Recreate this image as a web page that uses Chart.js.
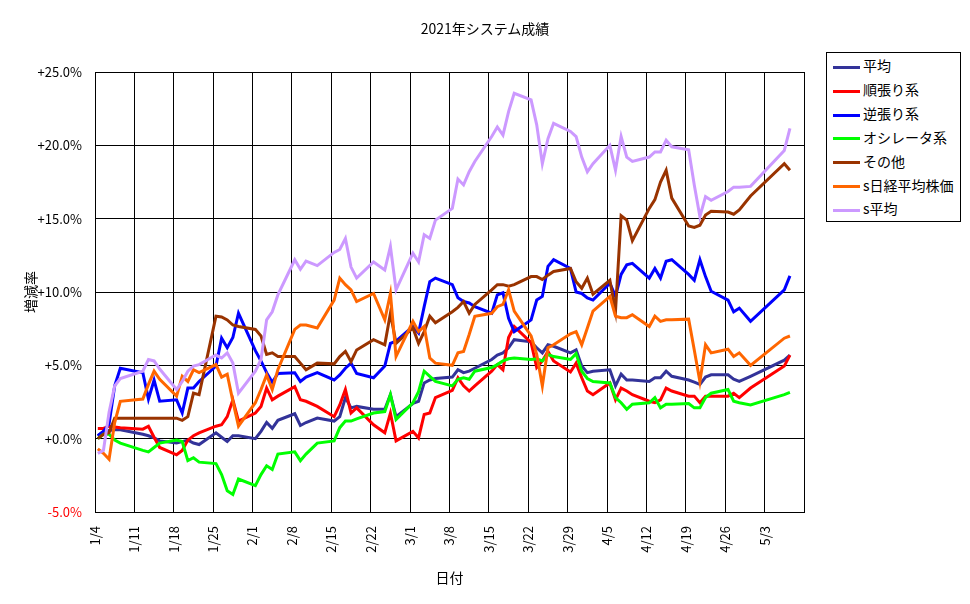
<!DOCTYPE html>
<html>
<head>
<meta charset="utf-8">
<script src="https://cdn.jsdelivr.net/npm/chart.js@4.4.1/dist/chart.umd.min.js"></script>
<style>
    body { margin: 0; background: #fff; }
    .wrap { position: relative; width: 970px; height: 604px; }
    #title {
        position: absolute; left: 0; top: 20px; width: 970px; text-align: center;
        font-family: "Noto Sans CJK JP", sans-serif; font-size: 14px; line-height: 17px;
    }
    #legend {
        position: absolute; left: 826px; top: 52px; width: 133px; height: 168px;
        border: 1px solid #000; background: #fff;
        font-family: "Noto Sans CJK JP", sans-serif; font-size: 14px;
    }
    .item { position: absolute; left: 6px; height: 20px; line-height: 20px; white-space: nowrap; }
    .item span.sw { display: inline-block; width: 27px; height: 3px; vertical-align: middle; margin-right: 3px; }
</style>
</head>
<body>
<div class="wrap">
    <canvas id="chart" width="970" height="604"></canvas>
    <div id="title">2021年システム成績</div>
    <div id="legend"></div>
</div>
<script>
// trading days (2021)
const dates = [
    "1/4","1/5","1/6","1/7","1/8","1/12","1/13","1/14","1/15","1/18","1/19","1/20","1/21","1/22","1/25","1/26","1/27","1/28","1/29",
    "2/1","2/2","2/3","2/4","2/5","2/8","2/9","2/10","2/12","2/15","2/16","2/17","2/18","2/19","2/22","2/24","2/25","2/26",
    "3/1","3/2","3/3","3/4","3/5","3/8","3/9","3/10","3/11","3/12","3/15","3/16","3/17","3/18","3/19","3/22","3/23","3/24","3/25","3/26","3/29","3/30","3/31",
    "4/1","4/2","4/5","4/6","4/7","4/8","4/9","4/12","4/13","4/14","4/15","4/16","4/19","4/20","4/21","4/22","4/23","4/26","4/27","4/28","4/30",
    "5/6","5/7"
];

const heikin = [
    0.2, 0.5, 0.55, 0.6, 0.6, 0.3, 0.2, 0.05, -0.15, -0.3, -0.2, -0.1, -0.3, -0.4, 0.4, 0.1, -0.2, 0.2, 0.2,
    0.0, 0.5, 1.1, 0.7, 1.25, 1.7, 0.9, 1.1, 1.4, 1.2, 1.5, 2.8, 2.1, 2.2, 2.0, 2.0, 3.0, 1.5,
    2.4, 2.55, 3.8, 4.0, 4.1, 4.2, 4.7, 4.5, 4.6, 4.8, 5.4, 5.7, 5.85, 6.2, 6.75, 6.6, 6.2, 5.85, 6.4, 6.3, 5.85, 6.05, 4.95,
    4.5, 4.6, 4.7, 3.6, 4.4, 4.0, 4.0, 3.9, 4.15, 4.15, 4.6, 4.25, 4.0, 3.85, 3.7, 4.2, 4.35, 4.35, 4.05, 3.9, 4.25,
    5.35, 5.7
];
const junbari = [
    0.7, 0.7, 0.85, 0.8, 0.75, 0.65, 0.85, 0.1, -0.6, -1.1, -0.8, -0.1, 0.2, 0.4, 0.85, 0.95, 1.5, 2.65, 1.2,
    1.75, 2.2, 3.45, 2.65, 2.9, 3.55, 2.65, 2.55, 2.2, 1.5, 2.3, 3.35, 1.75, 2.1, 0.95, 0.4, 1.75, -0.15,
    0.5, 0.05, 1.65, 1.75, 2.8, 3.3, 4.15, 3.6, 3.25, 3.6, 4.6, 5.05, 4.7, 6.9, 7.65, 6.55, 4.85, 5.3, 5.95, 5.3, 4.55, 5.15, 4.15,
    3.25, 3.0, 3.8, 2.65, 3.45, 3.25, 3.0, 2.55, 2.45, 2.65, 3.45, 3.25, 2.9, 2.9, 2.45, 2.9, 2.9, 2.9, 3.1, 2.8, 3.45,
    4.95, 5.7
];
const gyakubari = [
    0.2, 0.5, 1.0, 3.6, 4.8, 4.5, 2.7, 4.0, 2.55, 2.65, 1.75, 3.45, 3.45, 3.9, 4.95, 6.85, 6.2, 6.9, 8.55,
    6.0, 5.3, 4.5, 3.85, 4.45, 4.5, 3.9, 4.2, 4.5, 4.0, 4.35, 4.8, 5.15, 4.45, 4.15, 4.95, 6.5, 6.65,
    7.65, 7.2, 9.0, 10.7, 10.95, 10.5, 9.6, 9.35, 9.25, 9.0, 8.55, 9.8, 9.95, 8.2, 7.3, 8.1, 9.45, 9.7, 11.75, 12.2, 11.6, 10.0, 9.9,
    9.6, 9.45, 10.6, 9.7, 11.2, 11.85, 11.95, 10.95, 11.6, 10.95, 12.1, 12.2, 11.2, 10.8, 12.2, 11.05, 10.05, 9.45, 8.65, 8.9, 8.0,
    10.15, 11.1
];
const oscillator = [
    0.0, 0.3, 0.3, -0.1, -0.3, -0.8, -0.9, -0.6, -0.3, -0.1, -0.2, -1.5, -1.3, -1.6, -1.7, -2.45, -3.55, -3.8, -2.75,
    -3.2, -2.45, -1.85, -2.1, -1.05, -0.9, -1.5, -1.05, -0.3, -0.15, 0.75, 1.2, 1.2, 1.35, 1.75, 1.85, 3.0, 1.3,
    2.45, 3.2, 4.6, 4.25, 3.9, 3.6, 4.05, 4.15, 4.05, 4.6, 4.85, 5.05, 5.3, 5.45, 5.5, 5.4, 5.45, 5.3, 5.75, 5.6, 5.4, 5.8, 4.6,
    4.1, 3.9, 3.8, 2.8, 2.45, 2.0, 2.35, 2.45, 2.8, 2.1, 2.35, 2.35, 2.4, 2.1, 2.1, 2.8, 3.1, 3.35, 2.55, 2.45, 2.3,
    3.0, 3.15
];
const sonota = [
    0.0, 0.3, 0.4, 1.4, 1.4, 1.4, 1.4, 1.4, 1.4, 1.4, 1.25, 1.5, 3.1, 3.0, 8.35, 8.3, 8.1, 7.75, 7.65,
    7.45, 7.0, 5.75, 5.85, 5.6, 5.6, 5.15, 4.7, 5.15, 5.1, 5.6, 5.95, 5.25, 6.05, 6.75, 6.4, 8.55, 6.5,
    7.55, 6.5, 7.3, 8.35, 7.9, 8.65, 8.95, 9.35, 8.55, 9.15, 10.15, 10.5, 10.5, 10.4, 10.5, 11.05, 11.05, 10.85, 11.15, 11.4, 11.6, 10.7, 10.25,
    10.95, 9.85, 10.8, 8.7, 15.2, 14.9, 13.5, 15.7, 16.3, 17.5, 18.3, 16.4, 14.5, 14.4, 14.55, 15.25, 15.5, 15.45, 15.3, 15.6, 16.55,
    18.75, 18.3
];
const nikkei = [
    -0.7, -1.0, -1.4, 1.1, 2.55, 2.7, 3.7, 4.6, 4.05, 2.9, 4.25, 3.9, 4.7, 4.5, 5.05, 4.2, 4.4, 2.55, 0.85,
    2.45, 3.35, 4.35, 3.35, 4.7, 7.45, 7.75, 7.75, 7.55, 9.45, 10.95, 10.5, 10.15, 9.35, 9.9, 8.1, 9.9, 5.6,
    8.0, 7.3, 7.65, 5.5, 5.15, 5.0, 5.85, 5.95, 7.1, 8.35, 8.55, 9.0, 9.15, 10.15, 8.7, 7.0, 5.75, 3.6, 6.2, 6.4, 7.15, 7.3, 6.4,
    7.55, 8.7, 9.7, 8.35, 8.25, 8.25, 8.45, 7.65, 8.35, 8.0, 8.1, 8.1, 8.15, 6.05, 3.9, 6.4, 5.85, 6.1, 5.6, 5.85, 5.0,
    6.85, 7.0
];
const sHeikin = [
    -1.0, -0.8, 1.8, 3.6, 4.1, 4.6, 5.4, 5.3, 4.75, 3.35, 3.9, 4.6, 4.95, 5.05, 5.7, 5.5, 5.85, 5.15, 3.1,
    4.6, 5.4, 8.1, 8.65, 9.8, 12.2, 11.55, 12.1, 11.8, 12.7, 12.9, 13.65, 11.7, 10.95, 12.05, 11.5, 13.1, 10.15,
    12.65, 12.05, 13.9, 13.65, 14.9, 15.7, 17.7, 17.3, 18.2, 18.9, 20.6, 21.25, 20.7, 22.3, 23.55, 23.1, 21.4, 18.75, 20.45, 21.5, 20.95, 20.6, 19.2,
    18.2, 18.75, 20.0, 18.3, 20.6, 19.2, 18.9, 19.2, 19.55, 19.55, 20.35, 19.9, 19.7, 17.3, 15.15, 16.5, 16.25, 16.85, 17.15, 17.15, 17.2,
    19.65, 21.15
];

const seriesNames = ["平均", "順張り系", "逆張り系", "オシレータ系", "その他", "s日経平均株価", "s平均"];
const seriesData = [heikin, junbari, gyakubari, oscillator, sonota, nikkei, sHeikin];
const seriesColors = ["#333399", "#ff0000", "#0000ff", "#00ff00", "#993300", "#ff6600", "#cc99ff"];

const yTicks = [-5, 0, 5, 10, 15, 20, 25];

const DAY = 86400000;
const start = Date.UTC(2021, 0, 4);
function dayNo(s) {
    const [m, d] = s.split("/").map(Number);
    return (Date.UTC(2021, m - 1, d) - start) / DAY;
}
function dayLabel(n) {
    const dt = new Date(start + n * DAY);
    return (dt.getUTCMonth() + 1) + "/" + dt.getUTCDate();
}

const xDays = dates.map(dayNo);
// weekly grid, each day takes one slot
const weekLines = [];
for (let k = 0; k <= 18; k++) weekLines.push(k * 7 - 0.5);

Chart.defaults.font.family = '"Noto Sans CJK JP", sans-serif';
Chart.defaults.color = "#000";

new Chart(document.getElementById("chart"), {
    type: "line",
    data: {
        datasets: seriesData.map((vals, i) => ({
            label: seriesNames[i],
            data: vals.map((v, j) => ({ x: xDays[j], y: v })),
            borderColor: seriesColors[i],
            backgroundColor: seriesColors[i],
            borderWidth: 3,
            pointRadius: 0,
            tension: 0,
            order: seriesData.length - i
        }))
    },
    options: {
        responsive: false,
        animation: false,
        layout: { padding: { left: 0, right: 166, top: 72, bottom: 0 } },
        plugins: {
            legend: { display: false },
            tooltip: { enabled: false },
            title: { display: false }
        },
        scales: {
            x: {
                type: "linear",
                min: -0.5,
                max: 125.5,
                afterBuildTicks: (scale) => {
                    scale.ticks = weekLines.map(v => ({ value: v }));
                },
                afterFit: (scale) => { scale.height = 92; },
                ticks: {
                    autoSkip: false,
                    minRotation: 90,
                    maxRotation: 90,
                    padding: 14,
                    font: { size: 13 },
                    callback: (v) => (v > 120 ? "" : dayLabel(v + 0.5))
                },
                grid: { color: "#000", lineWidth: 1, drawTicks: false },
                border: { color: "#000", width: 1 },
                title: {
                    display: true,
                    text: "日付",
                    font: { size: 14 },
                    padding: { top: 0, bottom: 18 }
                }
            },
            y: {
                min: -5,
                max: 25,
                afterBuildTicks: (scale) => {
                    scale.ticks = yTicks.map(v => ({ value: v }));
                },
                afterFit: (scale) => { scale.width = 95; },
                ticks: {
                    padding: 13,
                    font: { size: 13 },
                    color: (ctx) => (ctx.tick && ctx.tick.value < 0 ? "#ff0000" : "#000"),
                    callback: (v) => (v >= 0 ? "+" : "") + v.toFixed(1) + "%"
                },
                grid: { color: "#000", lineWidth: 1, drawTicks: false },
                border: { color: "#000", width: 1 },
                title: {
                    display: true,
                    text: "増減率",
                    font: { size: 14 },
                    padding: { top: 22, bottom: 0 }
                }
            }
        }
    }
});

// legend box drawn as html, like the excel one
const legend = document.getElementById("legend");
seriesNames.forEach((name, i) => {
    const row = document.createElement("div");
    row.className = "item";
    row.style.top = (2 + i * 23.9) + "px";
    row.innerHTML = '<span class="sw" style="background:' + seriesColors[i] + '"></span>' + name;
    legend.appendChild(row);
});
</script>
</body>
</html>
